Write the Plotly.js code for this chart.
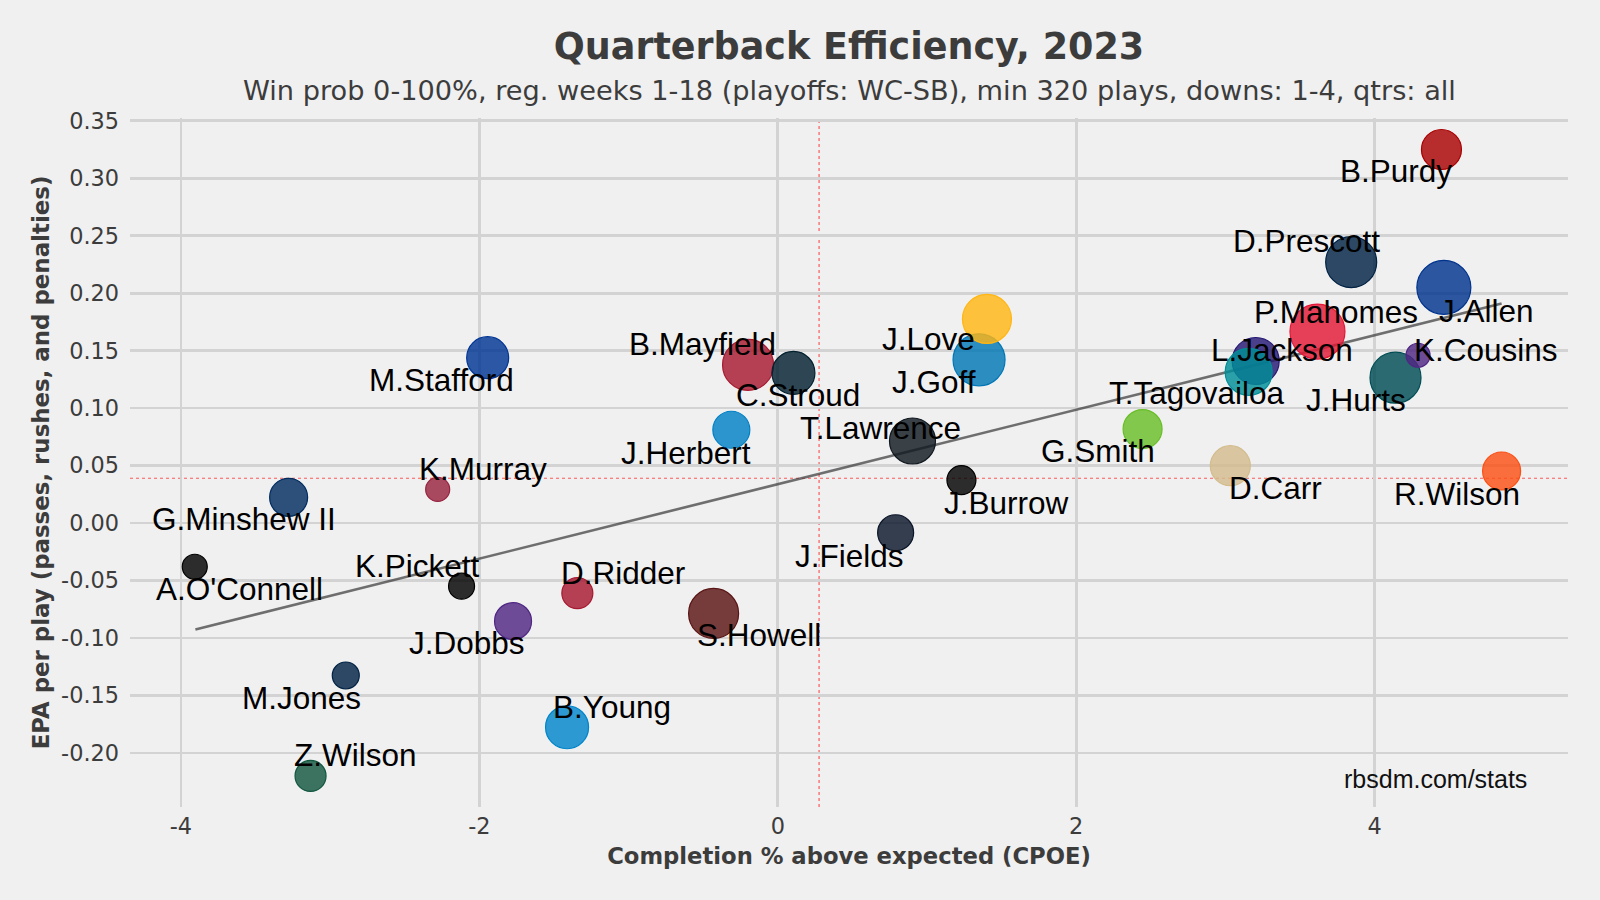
<!DOCTYPE html>
<html><head><meta charset="utf-8">
<script src="https://cdn.plot.ly/plotly-3.0.1.min.js"></script>
<style>html,body{margin:0;padding:0;background:#f0f0f0;}#chart{width:1600px;height:900px;}</style>
</head><body><div id="chart"></div>
<script>
// ---------------- data ----------------
const players = ["B.Purdy","D.Prescott","J.Allen","P.Mahomes","J.Hurts","K.Cousins","L.Jackson","T.Tagovailoa","J.Goff","J.Love","B.Mayfield","C.Stroud","T.Lawrence","G.Smith","J.Burrow","D.Carr","R.Wilson","J.Fields","M.Stafford","J.Herbert","K.Murray","G.Minshew II","A.O'Connell","K.Pickett","D.Ridder","S.Howell","J.Dobbs","M.Jones","B.Young","Z.Wilson"];
const cpoe = [4.448,3.843,4.464,3.617,4.140,4.291,3.203,3.156,1.349,1.402,-0.199,0.105,0.903,2.445,1.231,3.033,4.851,0.790,-1.944,-0.311,-2.279,-3.278,-3.907,-2.119,-1.343,-0.430,-1.774,-2.895,-1.412,-3.131];
const epa  = [0.325,0.227,0.205,0.1666,0.1265,0.146,0.141,0.1315,0.142,0.1776,0.1376,0.1306,0.0714,0.0818,0.0374,0.0499,0.0453,-0.0084,0.1439,0.0812,0.0293,0.0224,-0.038,-0.0549,-0.061,-0.0786,-0.0853,-0.1326,-0.1776,-0.220];
const plays = [41,52,55,56,52,25,48,48,53,50,52,44,47,40,30,41,39,37,43,38,25,39,26,27,32,51,38,28,44,32];
const teamColor = ["#AA0000","#002244","#00338D","#E31837","#004C54","#4F2683","#241773","#008E97","#0076B6","#FFB612","#A71930","#03202F","#101820","#69BE28","#000000","#D3BC8D","#FB4F14","#0B162A","#003594","#0080C6","#97233F","#002C5F","#000000","#000000","#A71930","#5A1414","#4F2683","#002244","#0085CA","#125740"];
const fitX = [-3.903, 4.851];
const fitY = [-0.0926, 0.191];
const meanCpoe = 0.277;
const meanEpa = 0.039;
const xTickVals = [-4,-2,0,2,4];
const xTickText = ["-4","-2","0","2","4"];
const yTickVals = [0.35,0.30,0.25,0.20,0.15,0.10,0.05,0.00,-0.05,-0.10,-0.15,-0.20];
const yTickText = ["0.35","0.30","0.25","0.20","0.15","0.10","0.05","0.00","-0.05","-0.10","-0.15","-0.20"];

// label placement (screen px: right, down) - layout only
const labelShift = [[-45,21],[-44.5,-21],[43,24],[19,-20],[-40,22],[68,-5],[26,-11.5],[-51.5,21],[-45,22.5],[-58.7,20],[-45.5,-21],[5,22],[-32,-13.5],[-45,22],[45,23],[45.5,22],[-44.5,23],[-46,23],[-46,22],[-45.5,23],[45,-20],[-45,22],[45,22],[-44,-20],[46,-20.5],[45,22],[-46,22],[-44,22],[45,-20],[45,-21]];

// ---------------- layout helpers ----------------
const M = {l:130, r:32, t:118, b:93};
const W = 1600, H = 900;
const PH = H - M.t - M.b, PW = W - M.l - M.r;
const py = p => (H - M.b - p) / PH;
const px = p => (p - M.l) / PW;
function rgba(hex, a){
  const n = parseInt(hex.slice(1),16);
  return `rgba(${(n>>16)&255},${(n>>8)&255},${n&255},${a})`;
}
const ink = "#3c3c3c";

const traces = [
  {type:"scatter", mode:"lines", x:fitX, y:fitY, hoverinfo:"skip",
   line:{color:"rgba(60,60,60,0.72)", width:2.6}, showlegend:false},
  {type:"scatter", mode:"markers", x:cpoe, y:epa, text:players, hoverinfo:"text",
   marker:{size:plays.map(s=>s-1), sizemode:"diameter", opacity:1,
     color:teamColor.map(c=>rgba(c,0.82)),
     line:{color:teamColor, width:1.2}}, showlegend:false}
];

const annotations = players.map((p,i)=>({
  x:cpoe[i], y:epa[i], xref:"x", yref:"y", text:p, showarrow:false,
  xanchor:"center", yanchor:"middle",
  xshift:labelShift[i][0], yshift:-labelShift[i][1],
  font:{family:"Liberation Sans, Arial, sans-serif", size:31.5, color:"#000"}
}));
annotations.push({
  xref:"paper", yref:"paper", x:0.5, y:py(90), xanchor:"center", yanchor:"middle",
  showarrow:false, text:"Win prob 0-100%, reg. weeks 1-18 (playoffs: WC-SB), min 320 plays, downs: 1-4, qtrs: all",
  font:{family:"DejaVu Sans", size:27.2, color:ink}
});
annotations.push({
  xref:"paper", yref:"paper", x:px(1529), y:py(779), xanchor:"right", yanchor:"middle",
  showarrow:false, text:"rbsdm.com/stats",
  font:{family:"Liberation Sans, Arial, sans-serif", size:25, color:"#111"}
});

const layout = {
  width:W, height:H, margin:M,
  paper_bgcolor:"#f0f0f0", plot_bgcolor:"#f0f0f0",
  title:{text:"<b>Quarterback Efficiency, 2023</b>", x:0.5, xref:"paper", xanchor:"center",
    y:1-46/H, yref:"container", yanchor:"middle",
    font:{family:"DejaVu Sans", size:36.5, color:ink}},
  xaxis:{range:[-4.341,5.296], tickvals:xTickVals, ticktext:xTickText,
    showgrid:true, gridcolor:"#d3d3d3", gridwidth:2.7, zeroline:false, showline:false,
    ticks:"", ticklabelstandoff:4,
    tickfont:{family:"DejaVu Sans", size:22.4, color:ink},
    title:{text:"<b>Completion % above expected (CPOE)</b>", standoff:9,
      font:{family:"DejaVu Sans", size:22.7, color:ink}}},
  yaxis:{range:[-0.247,0.3524], tickvals:yTickVals, ticktext:yTickText,
    showgrid:true, gridcolor:"#d3d3d3", gridwidth:2.7, zeroline:false, showline:false,
    ticks:"", ticklabelstandoff:10,
    tickfont:{family:"DejaVu Sans", size:22.4, color:ink},
    title:{text:"<b>EPA per play (passes, rushes, and penalties)</b>", standoff:5,
      font:{family:"DejaVu Sans", size:22.9, color:ink}}},
  shapes:[
    {type:"line", xref:"x", yref:"paper", x0:meanCpoe, x1:meanCpoe, y0:0, y1:1,
     line:{color:"rgba(255,40,40,0.75)", width:1.2, dash:"dot"}, layer:"below"},
    {type:"line", xref:"paper", yref:"y", x0:0, x1:1, y0:meanEpa, y1:meanEpa,
     line:{color:"rgba(255,40,40,0.75)", width:1.2, dash:"dot"}, layer:"below"}
  ],
  annotations:annotations,
  showlegend:false
};
Plotly.newPlot("chart", traces, layout, {displayModeBar:false, staticPlot:true});
</script></body></html>
